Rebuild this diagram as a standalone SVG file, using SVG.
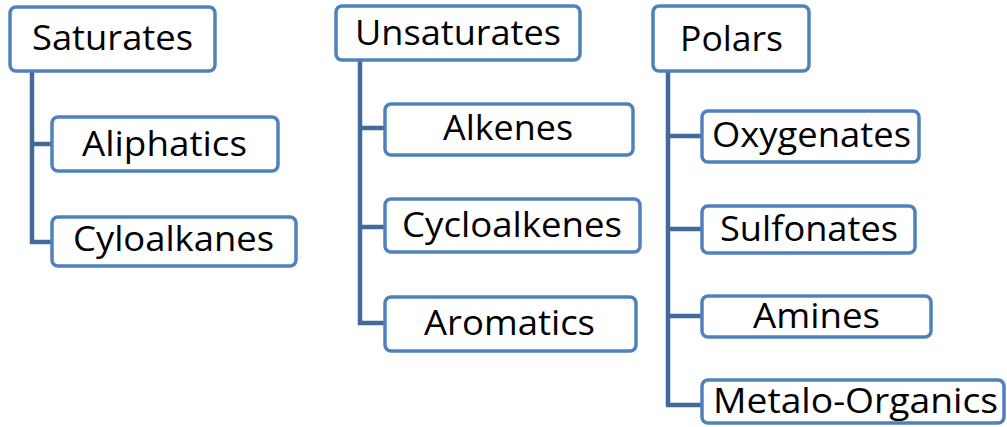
<svg xmlns="http://www.w3.org/2000/svg" width="1007" height="427" viewBox="0 0 1007 427">
<style>
.box{fill:#fff;stroke:#4F81BD;stroke-width:3.5}
.lbl{font-family:"Open Sans","Liberation Sans",sans-serif;font-size:34.5px;fill:#000}
.con{fill:none;stroke:#41699A;stroke-width:4.5}
</style>
<rect width="1007" height="427" fill="#fff"/>
<g id="connectors">
<path class="con" d="M32 71V242H52M32 144H52"/>
<path class="con" d="M360 60V323H385M360 128H385M360 227H385"/>
<path class="con" d="M668 71V405H702M668 136H702M668 229H702M668 316H702"/>
</g>
<g id="saturates"><rect class="box" x="10" y="7" width="205" height="64" rx="6"/><text class="lbl" x="32" y="50" textLength="161" lengthAdjust="spacingAndGlyphs">Saturates</text></g>
<g id="aliphatics"><rect class="box" x="52" y="117" width="226" height="54" rx="6"/><text class="lbl" x="82" y="156" textLength="165" lengthAdjust="spacingAndGlyphs">Aliphatics</text></g>
<g id="cyloalkanes"><rect class="box" x="52" y="217" width="244" height="49" rx="6"/><text class="lbl" x="73" y="251" textLength="201" lengthAdjust="spacingAndGlyphs">Cyloalkanes</text></g>
<g id="unsaturates"><rect class="box" x="336" y="6" width="244" height="54" rx="6"/><text class="lbl" x="355" y="45" textLength="206" lengthAdjust="spacingAndGlyphs">Unsaturates</text></g>
<g id="alkenes"><rect class="box" x="385" y="104" width="248" height="51" rx="6"/><text class="lbl" x="443" y="140" textLength="130" lengthAdjust="spacingAndGlyphs">Alkenes</text></g>
<g id="cycloalkenes"><rect class="box" x="385" y="199" width="255" height="53" rx="6"/><text class="lbl" x="402" y="237" textLength="220" lengthAdjust="spacingAndGlyphs">Cycloalkenes</text></g>
<g id="aromatics"><rect class="box" x="385" y="297" width="251" height="54" rx="6"/><text class="lbl" x="424" y="335" textLength="171" lengthAdjust="spacingAndGlyphs">Aromatics</text></g>
<g id="polars"><rect class="box" x="653" y="6" width="156" height="65" rx="6"/><text class="lbl" x="680" y="51" textLength="103" lengthAdjust="spacingAndGlyphs">Polars</text></g>
<g id="oxygenates"><rect class="box" x="702" y="111" width="217" height="51" rx="6"/><text class="lbl" x="712" y="147" textLength="199" lengthAdjust="spacingAndGlyphs">Oxygenates</text></g>
<g id="sulfonates"><rect class="box" x="702" y="206" width="213" height="47" rx="6"/><text class="lbl" x="720" y="241" textLength="178" lengthAdjust="spacingAndGlyphs">Sulfonates</text></g>
<g id="amines"><rect class="box" x="702" y="296" width="229" height="41" rx="6"/><text class="lbl" x="753" y="328" textLength="127" lengthAdjust="spacingAndGlyphs">Amines</text></g>
<g id="metalo-organics"><rect class="box" x="702" y="380" width="302" height="43" rx="6"/><text class="lbl" x="713" y="413" textLength="285" lengthAdjust="spacingAndGlyphs">Metalo-Organics</text></g>
</svg>
